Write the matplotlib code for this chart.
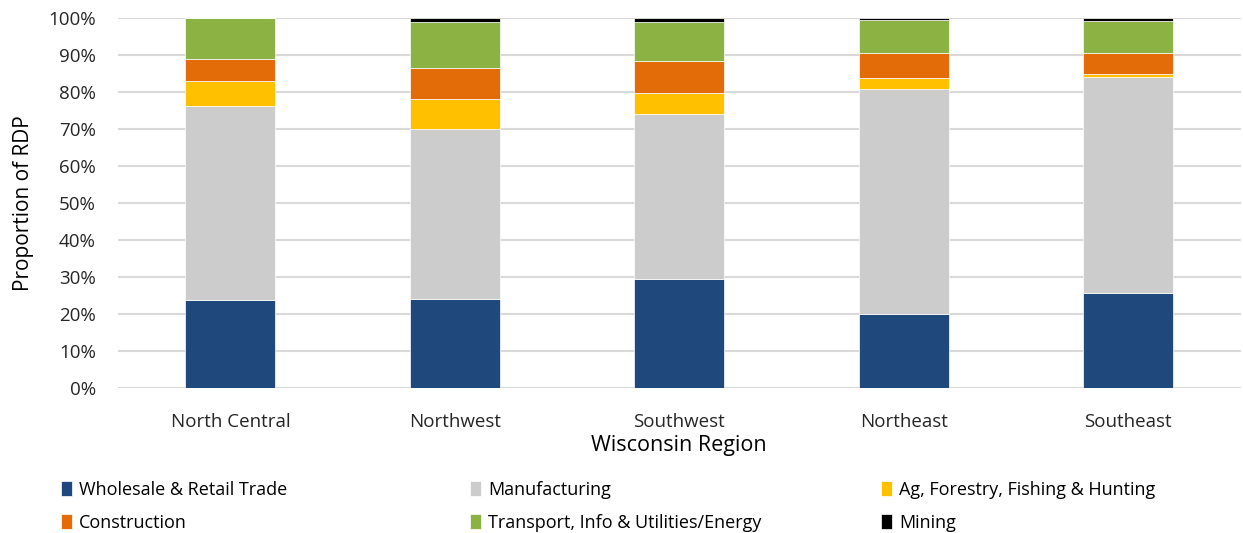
import matplotlib.pyplot as plt
import numpy as np
from matplotlib.ticker import PercentFormatter

plt.rcParams['font.family'] = ['Open Sans', 'DejaVu Sans']

regions = ['North Central', 'Northwest', 'Southwest', 'Northeast', 'Southeast']
sectors = ['Wholesale & Retail Trade', 'Manufacturing', 'Ag, Forestry, Fishing & Hunting',
           'Construction', 'Transport, Info & Utilities/Energy', 'Mining']

# share of regional domestic product, percent
wholesale = [23.8, 24.0, 29.5, 20.0, 25.8]
manufacturing = [52.4, 46.0, 44.6, 60.8, 58.3]
ag_forestry = [6.9, 8.2, 5.6, 3.0, 0.7]
construction = [5.8, 8.3, 8.8, 6.8, 5.8]
transport = [11.1, 12.5, 10.5, 8.9, 8.6]
mining = [0.0, 1.0, 1.0, 0.5, 0.8]

colors = ['#1F497D', '#CCCCCC', '#FFC000', '#E36C09', '#8DB244', '#000000']

fig = plt.figure(figsize=(12.43, 5.33), dpi=100)
ax = fig.add_axes([0.095, 0.272, 0.903, 0.694])

x = np.arange(len(regions))
bottom = np.zeros(len(regions))
bars = []
for vals, c in zip([wholesale, manufacturing, ag_forestry, construction, transport, mining], colors):
    b = ax.bar(x, vals, 0.4, bottom=bottom, color=c, edgecolor='white', linewidth=0.5, zorder=3)
    bars.append(b)
    bottom += np.array(vals)

ax.set_ylim(0, 100)
ax.set_xlim(-0.5, len(regions) - 0.5)
ax.set_yticks(np.arange(0, 101, 10))
ax.yaxis.set_major_formatter(PercentFormatter(decimals=0))
ax.set_xticks(x)
ax.set_xticklabels(regions, fontsize=13.5, color='#262626')
ax.tick_params(axis='y', labelsize=13.5, labelcolor='#262626', length=0, pad=16)
ax.tick_params(axis='x', length=0, pad=18)
ax.grid(axis='y', color='#D9D9D9', linewidth=1.5, zorder=0)
for s in ax.spines.values():
    s.set_visible(False)

ax.set_xlabel('Wisconsin Region', fontsize=15.5, color='#000000', labelpad=3)
ax.set_ylabel('Proportion of RDP', fontsize=15, color='#000000', labelpad=10)

# legend laid out in three columns
col_x = [0.049, 0.378, 0.709]
for i, cx in enumerate(col_x):
    hs = [bars[i], bars[i + 3]]
    ls = [sectors[i], sectors[i + 3]]
    fig.legend(hs, ls, loc='upper left', bbox_to_anchor=(cx, 0.098), frameon=False,
               fontsize=13, handlelength=0.6, handleheight=0.9, handletextpad=0.4,
               labelspacing=0.83, borderaxespad=0, borderpad=0)

fig.savefig('out.png', dpi=100)
